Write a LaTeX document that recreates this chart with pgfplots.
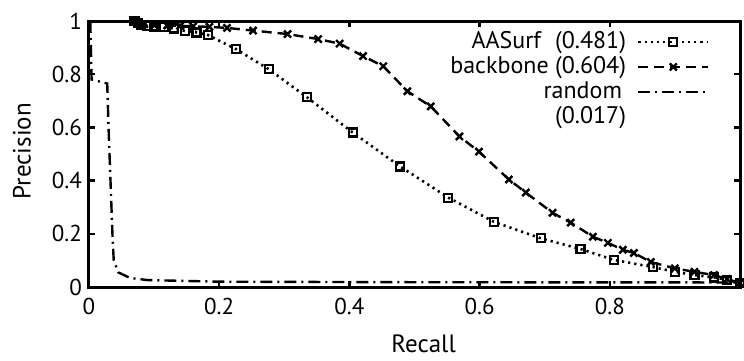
\documentclass[border=0pt]{standalone}
\usepackage{pgfplots}
\pgfplotsset{compat=1.18}
\usepackage{fontspec}
\setmainfont{PT Sans}
\begin{document}
\begin{tikzpicture}
\useasboundingbox (-44.5pt,-36.5pt) rectangle (327.5pt,143.5pt);
\begin{axis}[
  at={(0,0)}, anchor=south west,
  scale only axis, width=325.5pt, height=133pt,
  xmin=0, xmax=1, ymin=0, ymax=1,
  xtick={0,0.2,0.4,0.6,0.8}, ytick={0,0.2,0.4,0.6,0.8,1},
  xticklabels={0,0.2,0.4,0.6,0.8}, yticklabels={0,0.2,0.4,0.6,0.8,1},
  tick label style={font=\fontsize{11.5}{13}\selectfont},
  xticklabel style={yshift=-2pt},
  axis line style={line width=1.5pt},
  major tick length=3pt,
  every tick/.style={line width=1.2pt, black},
  xlabel={Recall}, ylabel={Precision},
  label style={font=\fontsize{12.5}{14}\selectfont, inner sep=1pt},
  xlabel style={at={(axis description cs:0.514,-0.212)}, anchor=center},
  ylabel style={at={(axis description cs:-0.103,0.51)}, anchor=center},
  clip=false,
  legend plot pos=right,
  legend cell align=right,
  legend image code/.code={\draw[mark repeat=2,mark phase=2,#1] plot coordinates {(0pt,0pt) (17.5pt,0pt) (35pt,0pt)};},
  legend style={at={(axis description cs:1,1)}, anchor=north east, xshift=-15pt, yshift=-4pt,
    draw=none, fill=none, inner sep=0pt, column sep=5.5pt, row sep=0pt,
    font=\fontsize{12}{14}\selectfont,
    nodes={inner sep=0pt, text height=9.5pt, text depth=3pt}},
]
\addplot[black, line width=1.3pt, dash pattern=on 1.1pt off 2pt,
  mark=square, mark size=2pt, mark options={solid, line width=1.1pt}] coordinates {
(0.070,1.000)(0.075,0.992)(0.080,0.986)(0.090,0.982)(0.100,0.979)(0.115,0.976)
(0.130,0.972)(0.148,0.962)(0.165,0.957)(0.183,0.947)(0.226,0.894)(0.276,0.819)
(0.335,0.713)(0.405,0.581)(0.478,0.453)(0.552,0.336)(0.622,0.245)(0.694,0.183)
(0.755,0.143)(0.806,0.102)(0.866,0.075)(0.900,0.057)(0.930,0.045)(0.960,0.036)
(0.980,0.027)(1.000,0.015)};
\addlegendentry{AASurf\kern7pt(0.481)}
\addplot[black, line width=1.2pt, dash pattern=on 5pt off 3pt,
  mark=x, mark size=2.5pt, mark options={solid, line width=1.2pt}] coordinates {
(0.070,1.000)(0.075,0.993)(0.085,0.988)(0.100,0.985)(0.120,0.983)(0.140,0.982)
(0.160,0.980)(0.185,0.978)(0.212,0.974)(0.252,0.964)(0.305,0.951)(0.352,0.932)
(0.385,0.915)(0.421,0.868)(0.452,0.830)(0.489,0.736)(0.525,0.679)(0.569,0.566)
(0.599,0.509)(0.645,0.404)(0.671,0.355)(0.712,0.279)(0.740,0.242)(0.774,0.189)
(0.797,0.166)(0.820,0.140)(0.837,0.128)(0.863,0.094)(0.900,0.070)(0.930,0.057)
(0.960,0.045)(0.980,0.030)(1.000,0.015)};
\addlegendentry{backbone (0.604)}
\addplot[black, line width=1.2pt, dash pattern=on 6pt off 2.5pt on 1pt off 2.5pt] coordinates {
(0.002,1.000)(0.004,0.780)(0.028,0.765)(0.030,0.600)(0.033,0.400)(0.036,0.200)
(0.038,0.100)(0.045,0.055)(0.063,0.034)(0.090,0.026)(0.200,0.020)(0.500,0.018)
(1.000,0.017)};
\addlegendentry{random\kern2pt}
\addlegendimage{empty legend}
\addlegendentry{(0.017)}
\end{axis}
\end{tikzpicture}
\end{document}
